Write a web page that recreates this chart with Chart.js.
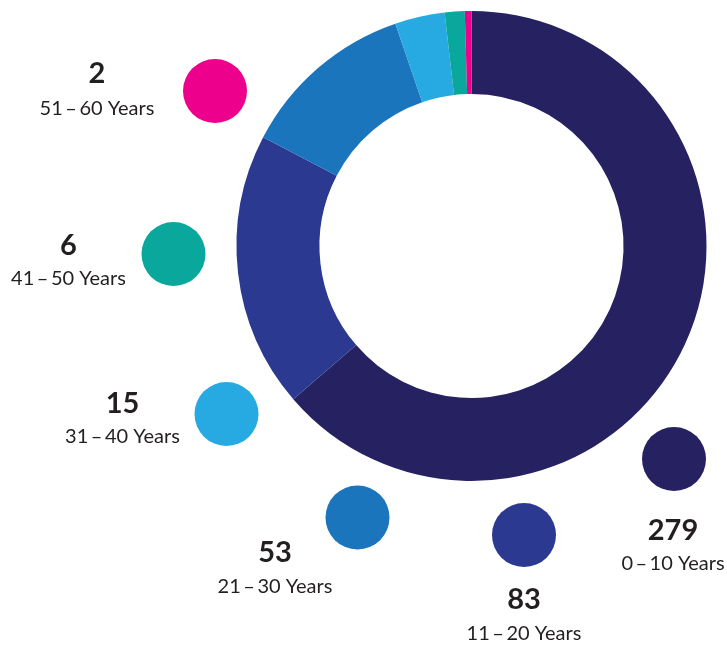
<!DOCTYPE html>
<html>
<head>
<meta charset="utf-8">
<script src="https://cdn.jsdelivr.net/npm/chart.js@4.4.0/dist/chart.umd.min.js"></script>
<style>
  html, body { margin: 0; padding: 0; background: #ffffff; }
  #wrap { position: relative; width: 727px; height: 645px; }
</style>
</head>
<body>
<div id="wrap"><canvas id="c" width="727" height="645"></canvas></div>
<script>
// ---- data ----
const categories = ["0\u2009–\u200910 Years", "11\u2009–\u200920 Years", "21\u2009–\u200930 Years", "31\u2009–\u200940 Years", "41\u2009–\u200950 Years", "51\u2009–\u200960 Years"];
const counts = [279, 83, 53, 15, 6, 2];
const colors = ["#262262", "#2B3990", "#1B75BC", "#27AAE1", "#0AA79C", "#EC008C"];

// ---- legend layout (positions only) ----
// circle center, number center x / baseline, label baseline
const legendLayout = [
  { cx: 674, cy: 459, tx: 673, ny: 540, ly: 570 },
  { cx: 524, cy: 535, tx: 524, ny: 609, ly: 640 },
  { cx: 357.5, cy: 517.5, tx: 275, ny: 562, ly: 593 },
  { cx: 226.5, cy: 414, tx: 122.5, ny: 413, ly: 443 },
  { cx: 173.5, cy: 254, tx: 68.5, ny: 255, ly: 285 },
  { cx: 215, cy: 91, tx: 97, ny: 83, ly: 115 }
];
const legendRadius = 32;
const textColor = "#231F20";
const fontFamily = "Lato, 'Open Sans', sans-serif";

const bubbleLegend = {
  id: 'bubbleLegend',
  afterDraw(chart) {
    const ctx = chart.ctx;
    ctx.save();
    legendLayout.forEach((p, i) => {
      ctx.beginPath();
      ctx.arc(p.cx, p.cy, legendRadius, 0, Math.PI * 2);
      ctx.fillStyle = colors[i];
      ctx.fill();
      ctx.fillStyle = textColor;
      ctx.textAlign = 'center';
      ctx.textBaseline = 'alphabetic';
      ctx.font = "bold 29px " + fontFamily;
      ctx.fillText(String(counts[i]), p.tx, p.ny);
      ctx.font = "20px " + fontFamily;
      ctx.fillText(categories[i], p.tx, p.ly);
    });
    ctx.restore();
  }
};

new Chart(document.getElementById('c'), {
  type: 'doughnut',
  data: {
    labels: categories,
    datasets: [{
      data: counts,
      backgroundColor: colors,
      borderWidth: 0,
      hoverOffset: 0
    }]
  },
  options: {
    responsive: false,
    animation: false,
    cutout: '64.7%',
    rotation: 0,
    layout: { padding: { left: 236.5, right: 20.5, top: 11, bottom: 164 } },
    plugins: {
      legend: { display: false },
      tooltip: { enabled: false }
    }
  },
  plugins: [bubbleLegend]
});
</script>
</body>
</html>
